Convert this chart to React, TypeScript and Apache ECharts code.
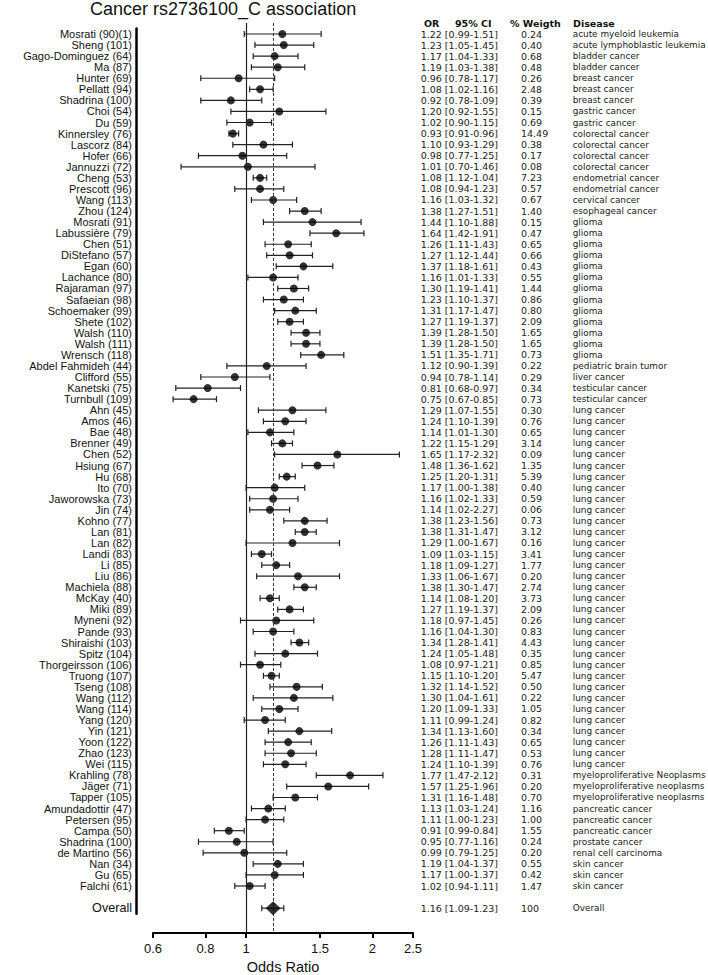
import React, { useEffect, useRef } from "react";
import * as echarts from "echarts";

const studyNames = [
  "Mosrati (90)(1)", "Sheng (101)", "Gago-Dominguez (64)", "Ma (87)", "Hunter (69)", "Pellatt (94)",
  "Shadrina (100)", "Choi (54)", "Du (59)", "Kinnersley (76)", "Lascorz (84)", "Hofer (66)",
  "Jannuzzi (72)", "Cheng (53)", "Prescott (96)", "Wang (113)", "Zhou (124)", "Mosrati (91)",
  "Labussière (79)", "Chen (51)", "DiStefano (57)", "Egan (60)", "Lachance (80)", "Rajaraman (97)",
  "Safaeian (98)", "Schoemaker (99)", "Shete (102)", "Walsh (110)", "Walsh (111)", "Wrensch (118)",
  "Abdel Fahmideh (44)", "Clifford (55)", "Kanetski (75)", "Turnbull (109)", "Ahn (45)", "Amos (46)",
  "Bae (48)", "Brenner (49)", "Chen (52)", "Hsiung (67)", "Hu (68)", "Ito (70)",
  "Jaworowska (73)", "Jin (74)", "Kohno (77)", "Lan (81)", "Lan (82)", "Landi (83)",
  "Li (85)", "Liu (86)", "Machiela (88)", "McKay (40)", "Miki (89)", "Myneni (92)",
  "Pande (93)", "Shiraishi (103)", "Spitz (104)", "Thorgeirsson (106)", "Truong (107)", "Tseng (108)",
  "Wang (112)", "Wang (114)", "Yang (120)", "Yin (121)", "Yoon (122)", "Zhao (123)",
  "Wei (115)", "Krahling (78)", "Jäger (71)", "Tapper (105)", "Amundadottir (47)", "Petersen (95)",
  "Campa (50)", "Shadrina (100)", "de Martino (56)", "Nan (34)", "Gu (65)", "Falchi (61)",
];

const oddsRatios = [
  1.22, 1.23, 1.17, 1.19, 0.96, 1.08, 0.92, 1.20, 1.02, 0.93, 1.10, 0.98,
  1.01, 1.08, 1.08, 1.16, 1.38, 1.44, 1.64, 1.26, 1.27, 1.37, 1.16, 1.30,
  1.23, 1.31, 1.27, 1.39, 1.39, 1.51, 1.12, 0.94, 0.81, 0.75, 1.29, 1.24,
  1.14, 1.22, 1.65, 1.48, 1.25, 1.17, 1.16, 1.14, 1.38, 1.38, 1.29, 1.09,
  1.18, 1.33, 1.38, 1.14, 1.27, 1.18, 1.16, 1.34, 1.24, 1.08, 1.15, 1.32,
  1.30, 1.20, 1.11, 1.34, 1.26, 1.28, 1.24, 1.77, 1.57, 1.31, 1.13, 1.11,
  0.91, 0.95, 0.99, 1.19, 1.17, 1.02,
];

// plotted confidence limits (as drawn in the figure)
const ciLow = [
  0.99, 1.05, 1.04, 1.03, 0.78, 1.02, 0.78, 0.92, 0.90, 0.91, 0.93, 0.77,
  0.70, 1.04, 0.94, 1.03, 1.27, 1.10, 1.42, 1.11, 1.12, 1.18, 1.01, 1.19,
  1.10, 1.17, 1.19, 1.28, 1.28, 1.35, 0.90, 0.78, 0.68, 0.67, 1.07, 1.10,
  1.01, 1.15, 1.17, 1.36, 1.20, 1.00, 1.02, 1.02, 1.23, 1.31, 1.00, 1.03,
  1.09, 1.06, 1.30, 1.08, 1.19, 0.97, 1.04, 1.28, 1.05, 0.97, 1.10, 1.14,
  1.04, 1.09, 0.99, 1.13, 1.11, 1.11, 1.10, 1.47, 1.25, 1.16, 1.03, 1.00,
  0.84, 0.77, 0.79, 1.04, 1.00, 0.94,
];
const ciHigh = [
  1.51, 1.45, 1.33, 1.38, 1.17, 1.16, 1.09, 1.55, 1.15, 0.96, 1.29, 1.25,
  1.46, 1.12, 1.23, 1.32, 1.51, 1.88, 1.91, 1.43, 1.44, 1.61, 1.33, 1.41,
  1.37, 1.47, 1.37, 1.50, 1.50, 1.71, 1.39, 1.14, 0.97, 0.85, 1.55, 1.39,
  1.30, 1.29, 2.32, 1.62, 1.31, 1.38, 1.33, 1.27, 1.56, 1.47, 1.67, 1.15,
  1.27, 1.67, 1.47, 1.20, 1.37, 1.45, 1.30, 1.41, 1.48, 1.21, 1.20, 1.52,
  1.61, 1.33, 1.24, 1.60, 1.43, 1.47, 1.39, 2.12, 1.96, 1.48, 1.24, 1.23,
  0.99, 1.16, 1.25, 1.37, 1.37, 1.11,
];

// confidence intervals as printed in the table
const ciText = [
  "[0.99-1.51]", "[1.05-1.45]", "[1.04-1.33]", "[1.03-1.38]", "[0.78-1.17]", "[1.02-1.16]",
  "[0.78-1.09]", "[0.92-1.55]", "[0.90-1.15]", "[0.91-0.96]", "[0.93-1.29]", "[0.77-1.25]",
  "[0.70-1.46]", "[1.12-1.04]", "[0.94-1.23]", "[1.03-1.32]", "[1.27-1.51]", "[1.10-1.88]",
  "[1.42-1.91]", "[1.11-1.43]", "[1.12-1.44]", "[1.18-1.61]", "[1.01-1.33]", "[1.19-1.41]",
  "[1.10-1.37]", "[1.17-1.47]", "[1.19-1.37]", "[1.28-1.50]", "[1.28-1.50]", "[1.35-1.71]",
  "[0.90-1.39]", "[0.78-1.14]", "[0.68-0.97]", "[0.67-0.85]", "[1.07-1.55]", "[1.10-1.39]",
  "[1.01-1.30]", "[1.15-1.29]", "[1.17-2.32]", "[1.36-1.62]", "[1.20-1.31]", "[1.00-1.38]",
  "[1.02-1.33]", "[1.02-2.27]", "[1.23-1.56]", "[1.31-1.47]", "[1.00-1.67]", "[1.03-1.15]",
  "[1.09-1.27]", "[1.06-1.67]", "[1.30-1.47]", "[1.08-1.20]", "[1.19-1.37]", "[0.97-1.45]",
  "[1.04-1.30]", "[1.28-1.41]", "[1.05-1.48]", "[0.97-1.21]", "[1.10-1.20]", "[1.14-1.52]",
  "[1.04-1.61]", "[1.09-1.33]", "[0.99-1.24]", "[1.13-1.60]", "[1.11-1.43]", "[1.11-1.47]",
  "[1.10-1.39]", "[1.47-2.12]", "[1.25-1.96]", "[1.16-1.48]", "[1.03-1.24]", "[1.00-1.23]",
  "[0.99-0.84]", "[0.77-1.16]", "[0.79-1.25]", "[1.04-1.37]", "[1.00-1.37]", "[0.94-1.11]",
];

const weights = [
  0.24, 0.40, 0.68, 0.48, 0.26, 2.48, 0.39, 0.15, 0.69, 14.49, 0.38, 0.17,
  0.08, 7.23, 0.57, 0.67, 1.40, 0.15, 0.47, 0.65, 0.66, 0.43, 0.55, 1.44,
  0.86, 0.80, 2.09, 1.65, 1.65, 0.73, 0.22, 0.29, 0.34, 0.73, 0.30, 0.76,
  0.65, 3.14, 0.09, 1.35, 5.39, 0.40, 0.59, 0.06, 0.73, 3.12, 0.16, 3.41,
  1.77, 0.20, 2.74, 3.73, 2.09, 0.26, 0.83, 4.43, 0.35, 0.85, 5.47, 0.50,
  0.22, 1.05, 0.82, 0.34, 0.65, 0.53, 0.76, 0.31, 0.20, 0.70, 1.16, 1.00,
  1.55, 0.24, 0.20, 0.55, 0.42, 1.47,
];

const diseases = [
  "acute myeloid leukemia", "acute lymphoblastic leukemia", "bladder cancer", "bladder cancer",
  "breast cancer", "breast cancer", "breast cancer", "gastric cancer", "gastric cancer",
  "colorectal cancer", "colorectal cancer", "colorectal cancer", "colorectal cancer",
  "endometrial cancer", "endometrial cancer", "cervical cancer", "esophageal cancer",
  "glioma", "glioma", "glioma", "glioma", "glioma", "glioma", "glioma", "glioma", "glioma",
  "glioma", "glioma", "glioma", "glioma", "pediatric brain tumor", "liver cancer",
  "testicular cancer", "testicular cancer",
  "lung cancer", "lung cancer", "lung cancer", "lung cancer", "lung cancer", "lung cancer",
  "lung cancer", "lung cancer", "lung cancer", "lung cancer", "lung cancer", "lung cancer",
  "lung cancer", "lung cancer", "lung cancer", "lung cancer", "lung cancer", "lung cancer",
  "lung cancer", "lung cancer", "lung cancer", "lung cancer", "lung cancer", "lung cancer",
  "lung cancer", "lung cancer", "lung cancer", "lung cancer", "lung cancer", "lung cancer",
  "lung cancer", "lung cancer", "lung cancer",
  "myeloproliferative Neoplasms", "myeloproliferative neoplasms", "myeloproliferative neoplasms",
  "pancreatic cancer", "pancreatic cancer", "pancreatic cancer", "prostate cancer",
  "renal cell carcinoma", "skin cancer", "skin cancer", "skin cancer",
];

const overallLabel = "Overall";
const overallOR = 1.16;
const overallLow = 1.09;
const overallHigh = 1.23;
const overallCiText = "[1.09-1.23]";
const overallWeight = "100";
const overallDisease = "Overall";

const xTicks = [0.6, 0.8, 1, 1.5, 2, 2.5];
const headers = ["OR", "95% CI", "% Weigth", "Disease"];

const LABEL_FONT = "'Liberation Sans', Arial, Helvetica, sans-serif";
const TABLE_FONT = "'DejaVu Sans', Verdana, sans-serif";

export default function App() {
  const ref = useRef<HTMLDivElement>(null);

  useEffect(() => {
    if (!ref.current) return;
    const chart = echarts.init(ref.current, null, { renderer: "svg" });

    const n = studyNames.length;
    const overallRow = n + 2;
    const rowNames = [...studyNames, "", overallLabel];
    const orCiCol = [
      ...oddsRatios.map((v, i) => `${v.toFixed(2)} ${ciText[i]}`),
      "",
      `${overallOR.toFixed(2)} ${overallCiText}`,
    ];
    const weightCol = [...weights.map((w) => w.toFixed(2)), "", overallWeight];
    const diseaseCol = [...diseases, "", overallDisease];

    const ciData = [
      ...ciLow.map((lo, i) => [Math.log(lo), Math.log(ciHigh[i]), i + 1]),
      [Math.log(overallLow), Math.log(overallHigh), overallRow],
    ];
    const pointData = oddsRatios.map((v, i) => [Math.log(v), i + 1]);

    const rowPitch = 11.065;
    const firstRowY = 34;
    const yMax = 82.25; // rows spanned by the plot area (row 0 at its top)
    const plotTop = firstRowY - rowPitch;
    const plotHeight = yMax * rowPitch;
    const labelGridTop = firstRowY - rowPitch / 2;
    const labelGridHeight = rowPitch * rowNames.length;

    const headerX = [424, 455, 510, 573];

    const tableAxis = (data: string[], offset: number, fontSize: number) => ({
      type: "category",
      gridIndex: 1,
      position: "right",
      offset,
      inverse: true,
      data,
      axisLine: { show: false },
      axisTick: { show: false },
      axisLabel: {
        interval: 0,
        margin: 0,
        align: "left",
        fontFamily: TABLE_FONT,
        fontSize,
        color: "#1a1a1a",
      },
    });

    const option = {
      animation: false,
      backgroundColor: "#ffffff",
      title: {
        text: "Cancer rs2736100_C association",
        left: 90,
        top: 0,
        padding: 0,
        textStyle: {
          fontFamily: LABEL_FONT,
          fontSize: 18,
          fontWeight: "normal",
          color: "#111",
        },
      },
      graphic: headers.map((h, i) => ({
        type: "text",
        x: headerX[i],
        y: 23,
        style: {
          text: h,
          fontFamily: TABLE_FONT,
          fontSize: 9.5,
          fontWeight: "bold",
          fill: "#111",
          verticalAlign: "middle",
          align: "left",
        },
      })),
      grid: [
        {
          left: 153,
          width: 260,
          top: plotTop,
          height: plotHeight,
          outerBoundsMode: "none",
          containLabel: false,
        },
        {
          left: 136,
          width: 284,
          top: labelGridTop,
          height: labelGridHeight,
          outerBoundsMode: "none",
          containLabel: false,
        },
      ],
      xAxis: [
        {
          type: "value",
          gridIndex: 0,
          position: "bottom",
          min: Math.log(0.6),
          max: Math.log(2.5),
          splitLine: { show: false },
          axisLine: { show: true, onZero: false, lineStyle: { color: "#000", width: 2 } },
          axisTick: {
            show: true,
            customValues: xTicks.map((t) => Math.log(t)),
            length: 5,
            inside: false,
            lineStyle: { color: "#000", width: 2 },
          },
          axisLabel: {
            customValues: xTicks.map((t) => Math.log(t)),
            formatter: (v: number) => String(Math.round(Math.exp(v) * 10) / 10),
            fontFamily: LABEL_FONT,
            fontSize: 13,
            color: "#111",
            margin: 9,
          },
          name: "Odds Ratio",
          nameLocation: "middle",
          nameGap: 26,
          nameTextStyle: { fontFamily: LABEL_FONT, fontSize: 14.5, color: "#111", lineHeight: 15 },
        },
        { type: "value", gridIndex: 1, show: false },
      ],
      yAxis: [
        {
          type: "value",
          gridIndex: 0,
          inverse: true,
          min: 0,
          max: yMax,
          interval: 0.25,
          show: false,
        },
        {
          type: "category",
          gridIndex: 1,
          position: "left",
          inverse: true,
          data: rowNames,
          axisLine: { show: true, onZero: false, lineStyle: { color: "#000", width: 2.5 } },
          axisTick: { show: false },
          axisLabel: {
            interval: 0,
            margin: 4,
            fontFamily: LABEL_FONT,
            fontSize: 11,
            color: "#111",
            formatter: (v: string) => (v === overallLabel ? `{big|${v}}` : v),
            rich: { big: { fontFamily: LABEL_FONT, fontSize: 12.6, color: "#111" } },
          },
        },
        tableAxis(orCiCol, 0.7, 9.5),
        tableAxis(weightCol, 101, 9.5),
        tableAxis(diseaseCol, 152.7, 8.9),
      ],
      series: [
        {
          type: "custom",
          xAxisIndex: 0,
          yAxisIndex: 0,
          data: ciData,
          encode: { x: [0, 1], y: 2 },
          renderItem: (params: any, api: any) => {
            const row = api.value(2);
            const a = api.coord([api.value(0), row]);
            const b = api.coord([api.value(1), row]);
            const h = 3;
            const style = { stroke: "#222", lineWidth: 1.2 };
            return {
              type: "group",
              children: [
                { type: "line", shape: { x1: a[0], y1: a[1], x2: b[0], y2: b[1] }, style },
                { type: "line", shape: { x1: a[0], y1: a[1] - h, x2: a[0], y2: a[1] + h }, style },
                { type: "line", shape: { x1: b[0], y1: b[1] - h, x2: b[0], y2: b[1] + h }, style },
              ],
            };
          },
          z: 3,
        },
        {
          type: "scatter",
          xAxisIndex: 0,
          yAxisIndex: 0,
          data: pointData,
          symbol: "circle",
          symbolSize: 8,
          itemStyle: { color: "#000" },
          z: 4,
          markLine: {
            silent: true,
            symbol: ["none", "none"],
            label: { show: false },
            data: [
              { xAxis: 0, lineStyle: { type: "solid", color: "#222", width: 1.2 } },
              { xAxis: Math.log(overallOR), lineStyle: { type: [3, 2], color: "#333", width: 1 } },
            ],
          },
        },
        {
          type: "scatter",
          xAxisIndex: 0,
          yAxisIndex: 0,
          data: [[Math.log(overallOR), overallRow]],
          symbol: "diamond",
          symbolSize: [15, 14],
          itemStyle: { color: "#000" },
          z: 5,
        },
      ],
    };

    chart.setOption(option as any);
    return () => chart.dispose();
  }, []);

  return (
    <div
      ref={ref}
      style={{ position: "absolute", left: 0, top: 0, width: 708, height: 975, background: "#fff" }}
    />
  );
}
